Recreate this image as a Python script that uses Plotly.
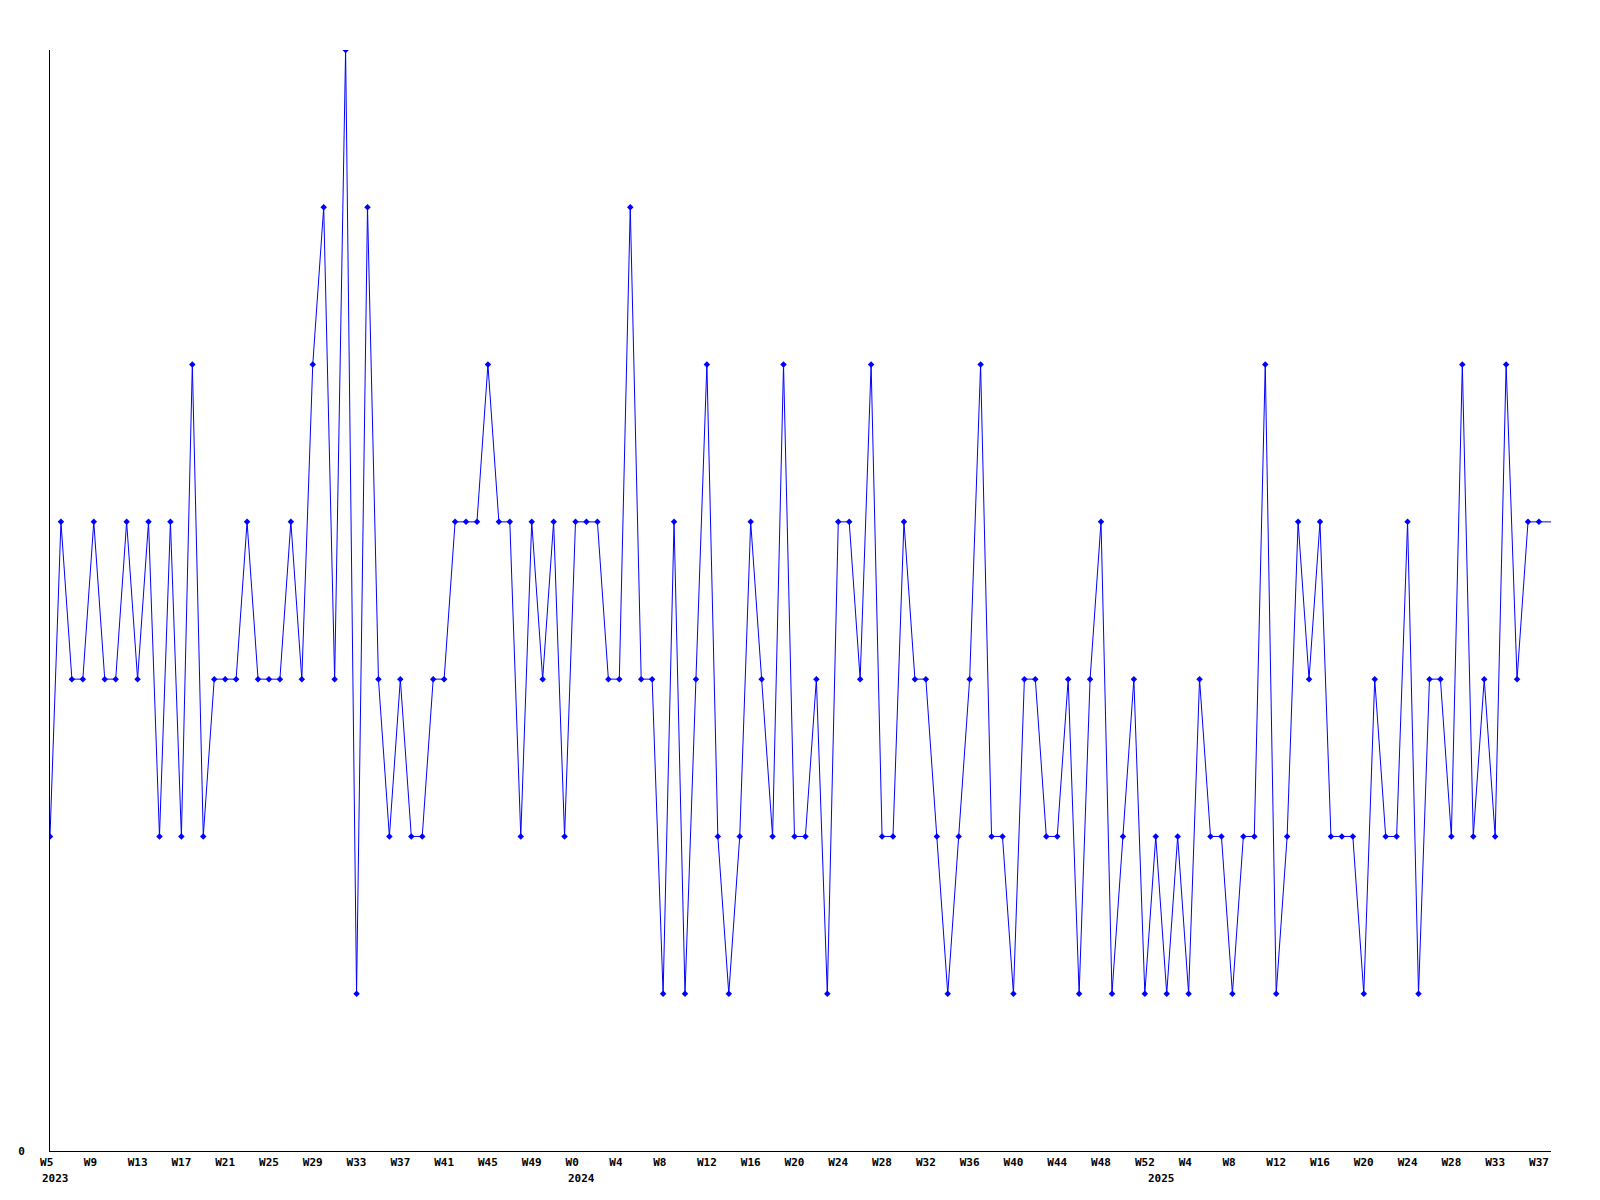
import plotly.graph_objects as go

# Weekly values, 2023 W5 -> 2025 W37 (one point per week)
values = [2, 4, 3, 3, 4, 3, 3, 4, 3, 4, 2, 4, 2, 5, 2, 3, 3, 3, 4, 3,
          3, 3, 4, 3, 5, 6, 3, 7, 1, 6, 3, 2, 3, 2, 2, 3, 3, 4, 4, 4,
          5, 4, 4, 2, 4, 3, 4, 2, 4, 4, 4, 3, 3, 6, 3, 3, 1, 4, 1, 3,
          5, 2, 1, 2, 4, 3, 2, 5, 2, 2, 3, 1, 4, 4, 3, 5, 2, 2, 4, 3,
          3, 2, 1, 2, 3, 5, 2, 2, 1, 3, 3, 2, 2, 3, 1, 3, 4, 1, 2, 3,
          1, 2, 1, 2, 1, 3, 2, 2, 1, 2, 2, 5, 1, 2, 4, 3, 4, 2, 2, 2,
          1, 3, 2, 2, 4, 1, 3, 3, 2, 5, 2, 3, 2, 5, 3, 4, 4]

# Week numbers of each point, per year (2024 W52 also covers 2025 W0)
weeks_2023 = list(range(5, 53))
weeks_2024 = list(range(0, 53))
weeks_2025 = list(range(1, 29)) + list(range(30, 38))
years = [2023, 2024, 2025]

week_labels = [f"W{w}" for w in weeks_2023 + weeks_2024 + weeks_2025]
point_years = ([2023] * len(weeks_2023) + [2024] * len(weeks_2024)
               + [2025] * len(weeks_2025))

n = len(values)
xs = list(range(n))
x_end = n - 1 + 1.1

FONT = dict(family="DejaVu Sans Mono", size=11, color="black", weight="bold")
BLUE = "#0000ff"

fig = go.Figure()
# line continues to the right edge at the last value
fig.add_trace(go.Scatter(x=[xs[-1], x_end], y=[values[-1], values[-1]],
                         mode="lines", line=dict(color=BLUE, width=1),
                         hoverinfo="skip", showlegend=False))
fig.add_trace(go.Scatter(x=xs, y=values, mode="lines+markers",
                         line=dict(color=BLUE, width=1),
                         marker=dict(symbol="diamond", size=5, color=BLUE),
                         text=[f"{w} {y}" for w, y in zip(week_labels, point_years)],
                         showlegend=False))

tick_idx = list(range(0, n, 4))
tick_text = [week_labels[i] + ("\u00a0" if len(week_labels[i]) < 3 else "")
             for i in tick_idx]

annotations = []
for yr in years:
    i0 = point_years.index(yr)
    annotations.append(dict(x=i0, y=0, xref="x", yref="paper", text=str(yr),
                            showarrow=False, xanchor="left", yanchor="middle",
                            xshift=-10, yshift=-27, font=FONT))

# page body has an 8px margin: offset the figure margins to compensate
fig.update_layout(
    width=1600, height=1200,
    margin=dict(l=42, r=57, t=42, b=57),
    paper_bgcolor="white", plot_bgcolor="white",
    font=FONT,
    annotations=annotations,
    xaxis=dict(range=[0, x_end], tickmode="array", tickvals=tick_idx,
               ticktext=tick_text, showgrid=False, zeroline=False,
               showline=True, linecolor="black", linewidth=1, ticks="",
               ticklabelstandoff=1, tickfont=FONT, automargin=False),
    yaxis=dict(range=[0, max(values)], tickmode="array", tickvals=[0],
               ticktext=["0"], showgrid=False, zeroline=False,
               showline=True, linecolor="black", linewidth=1, ticks="",
               ticklabelstandoff=22, tickfont=FONT, automargin=False),
)

fig.write_html("out.html")
